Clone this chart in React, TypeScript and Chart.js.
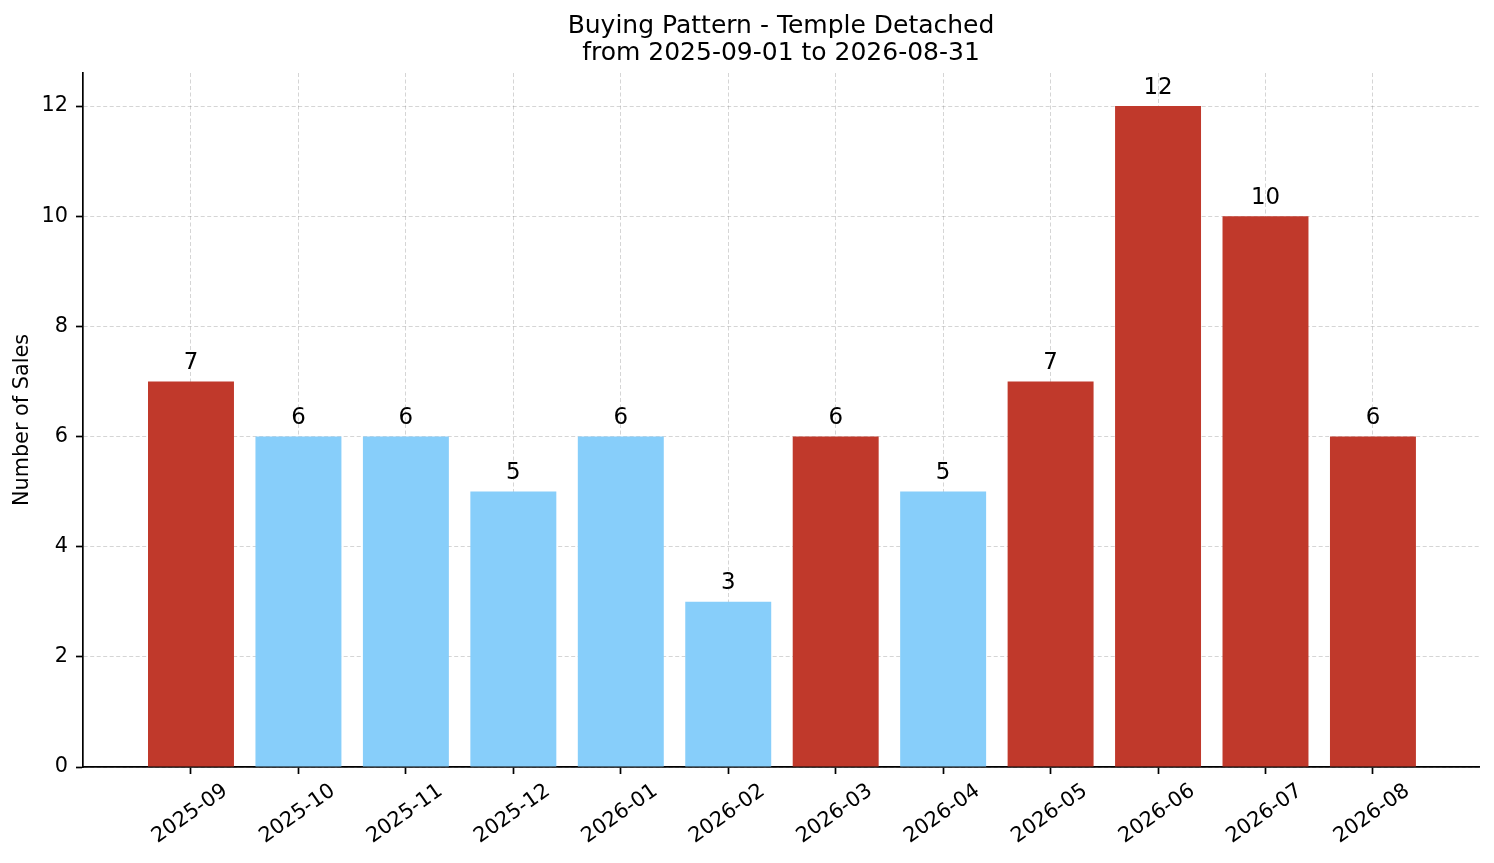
import React, { useEffect, useRef } from 'react';
import Chart from 'chart.js/auto';

const months = [
  '2025-09', '2025-10', '2025-11', '2025-12', '2026-01', '2026-02',
  '2026-03', '2026-04', '2026-05', '2026-06', '2026-07', '2026-08',
];
const sales = [7, 6, 6, 5, 6, 3, 6, 5, 7, 12, 10, 6];
// months shown in red in the reference
const busyMonths = ['2025-09', '2026-03', '2026-05', '2026-06', '2026-07', '2026-08'];
const titleLines = ['Buying Pattern - Temple Detached', 'from 2025-09-01 to 2026-08-31'];
const yLabel = 'Number of Sales';

const RED = '#C0392B';
const BLUE = '#87CEFA';
const FONT = '"DejaVu Sans", sans-serif';

const overlay = {
  id: 'overlay',
  afterDraw(chart: any) {
    const { ctx, chartArea, scales } = chart;
    ctx.save();
    ctx.fillStyle = '#000';
    ctx.textAlign = 'center';

    // title centred on the plot area
    ctx.font = `25px ${FONT}`;
    ctx.textBaseline = 'middle';
    const cx = (chartArea.left + chartArea.right) / 2;
    titleLines.forEach((t, i) => ctx.fillText(t, cx, 26 + i * 27));

    // values above bars
    ctx.font = `22.9px ${FONT}`;
    ctx.textBaseline = 'alphabetic';
    const meta = chart.getDatasetMeta(0);
    meta.data.forEach((bar: any, i: number) => {
      ctx.fillText(String(sales[i]), bar.x, bar.y - 12.5);
    });

    // rotated month labels, centred under each tick
    const xs = scales.x;
    ctx.font = `20.8px ${FONT}`;
    ctx.textBaseline = 'middle';
    xs.ticks.forEach((t: any) => {
      const px = xs.getPixelForValue(t.value);
      ctx.save();
      ctx.translate(px - 1, chartArea.bottom + 47);
      ctx.rotate((-35 * Math.PI) / 180);
      ctx.fillText(months[t.value], 0, 0);
      ctx.restore();
    });
    ctx.restore();
  },
};

export default function App(): React.JSX.Element {
  const canvasRef = useRef<HTMLCanvasElement | null>(null);

  useEffect(() => {
    document.body.style.margin = '0';
    if (!canvasRef.current) return;

    const grid = {
      color: 'rgba(128,128,128,0.33)',
      lineWidth: 1,
      offset: false,
      tickColor: '#000',
      tickWidth: 1.7,
      tickBorderDash: [],
      tickLength: 7,
    };
    const border = { color: '#000', width: 1.7, dash: [4, 2.5] };

    const chart = new Chart(canvasRef.current, {
      type: 'bar',
      data: {
        datasets: [
          {
            data: months.map((m, i) => ({ x: i, y: sales[i] })),
            backgroundColor: months.map((m) => (busyMonths.includes(m) ? RED : BLUE)),
            barPercentage: 0.8,
            categoryPercentage: 1,
          },
        ],
      },
      options: {
        animation: false,
        responsive: true,
        maintainAspectRatio: false,
        layout: { padding: { top: 73, right: 15, left: 0, bottom: 0 } },
        plugins: {
          legend: { display: false },
          tooltip: { enabled: false },
          title: { display: false },
        },
        scales: {
          x: {
            type: 'linear',
            min: -1.005,
            max: 11.987,
            offset: false,
            z: 1,
            grid,
            border,
            ticks: { display: false },
            afterBuildTicks: (scale: any) => {
              scale.ticks = months.map((m, i) => ({ value: i }));
            },
            afterFit: (scale: any) => {
              scale.height = 96;
            },
          },
          y: {
            min: 0,
            max: 12.6,
            z: 1,
            grid,
            border,
            ticks: {
              stepSize: 2,
              includeBounds: false,
              color: '#000',
              padding: 8,
              font: { family: FONT, size: 20.8 },
            },
            title: {
              display: true,
              text: yLabel,
              color: '#000',
              font: { family: FONT, size: 20.8 },
              padding: { top: 10, bottom: 0 },
            },
            afterFit: (scale: any) => {
              scale.width = 83;
            },
          },
        },
      },
      plugins: [overlay],
    } as any);

    return () => chart.destroy();
  }, []);

  return (
    <div style={{ width: 1494, height: 863, position: 'relative', background: '#fff' }}>
      <canvas ref={canvasRef} />
    </div>
  );
}
